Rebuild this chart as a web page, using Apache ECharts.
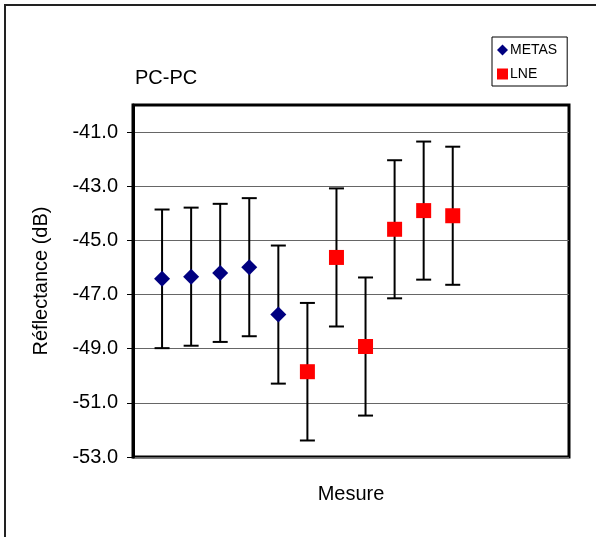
<!DOCTYPE html>
<html>
<head>
<meta charset="utf-8">
<script src="https://cdn.jsdelivr.net/npm/echarts@6/dist/echarts.min.js"></script>
<style>
  html, body { margin: 0; padding: 0; background: #fff; }
  #chart { width: 596px; height: 537px; }
</style>
</head>
<body>
<div id="chart"></div>
<script>
// measurement index on the x axis
const metasX = [1, 2, 3, 4, 5]
const lneX = [6, 7, 8, 9, 10, 11]
// reflectance values (dB)
const metasY = [-46.42, -46.34, -46.2, -45.99, -47.74]
const lneY = [-49.85, -45.63, -48.92, -44.59, -43.9, -44.09]
// uncertainty (half length of the error bars)
const metasU = [2.56, 2.55, 2.55, 2.55, 2.55]
const lneU = [2.54, 2.55, 2.55, 2.55, 2.55, 2.55]
// y ticks
const yTicks = [-53, -51, -49, -47, -45, -43, -41]

const FONT = 'Liberation Sans, Arial, sans-serif'

var chart = echarts.init(document.getElementById('chart'))

const pairs = (xs, ys) => xs.map((x, i) => [x, ys[i]])
const bars = (xs, ys, us) => xs.map((x, i) => [x, ys[i] - us[i], ys[i] + us[i]])

const errorSeries = (name, data) => ({
  type: 'custom',
  name: name + '-err',
  data: data,
  z: 2,
  silent: true,
  renderItem: function (params, api) {
    var lo = api.coord([api.value(0), api.value(1)])
    var hi = api.coord([api.value(0), api.value(2)])
    var half = 7.5
    var style = { stroke: '#000', lineWidth: 2 }
    return {
      type: 'group',
      children: [
        { type: 'line', shape: { x1: lo[0], y1: lo[1], x2: hi[0], y2: hi[1] }, style: style },
        { type: 'line', shape: { x1: lo[0] - half, y1: lo[1], x2: lo[0] + half, y2: lo[1] }, style: style },
        { type: 'line', shape: { x1: hi[0] - half, y1: hi[1], x2: hi[0] + half, y2: hi[1] }, style: style },
      ],
    }
  },
})

var option = {
  backgroundColor: '#fff',
  animation: false,
  textStyle: { fontFamily: FONT },
  title: {
    text: 'PC-PC',
    left: 135,
    top: 68,
    padding: 0,
    textStyle: { fontFamily: FONT, fontSize: 20, fontWeight: 'normal', color: '#000' },
  },
  legend: {
    orient: 'vertical',
    left: 492,
    top: 37,
    width: 75,
    padding: [6, 10, 5, 5],
    itemGap: 10,
    itemWidth: 11,
    itemHeight: 11,
    borderColor: '#000',
    borderWidth: 1,
    borderRadius: 0,
    data: ['METAS', 'LNE'],
    textStyle: { fontFamily: FONT, fontSize: 14, color: '#000', padding: [0, 0, 0, -3] },
  },
  graphic: [
    {
      type: 'rect',
      shape: { x: 5, y: 5, width: 800, height: 800 },
      style: { fill: 'none', stroke: '#222', lineWidth: 2 },
      silent: true,
    },
  ],
  grid: {
    left: 133,
    right: 27,
    top: 105,
    bottom: 80,
    show: true,
    borderColor: '#000',
    borderWidth: 3,
    backgroundColor: '#fff',
  },
  xAxis: {
    type: 'value',
    min: 0,
    max: 15,
    name: 'Mesure',
    nameLocation: 'middle',
    nameGap: 27,
    nameTextStyle: { fontFamily: FONT, fontSize: 20, color: '#000' },
    axisLine: { show: false },
    axisTick: { show: false },
    axisLabel: { show: false },
    splitLine: { show: false },
  },
  yAxis: {
    type: 'value',
    min: -53,
    max: -40,
    interval: 2,
    name: 'Réflectance (dB)',
    nameLocation: 'middle',
    nameGap: 82,
    nameTextStyle: { fontFamily: FONT, fontSize: 20, color: '#000' },
    axisLine: { show: true, lineStyle: { color: '#000', width: 3 } },
    axisTick: {
      show: true,
      length: 6,
      customValues: yTicks,
      lineStyle: { color: '#000', width: 1 },
    },
    axisLabel: {
      customValues: yTicks,
      margin: 15,
      fontFamily: FONT,
      fontSize: 20,
      color: '#000',
      formatter: (v) => v.toFixed(1),
    },
    splitLine: { show: true, lineStyle: { color: '#666', width: 1 } },
  },
  series: [
    errorSeries('METAS', bars(metasX, metasY, metasU)),
    errorSeries('LNE', bars(lneX, lneY, lneU)),
    {
      name: 'METAS',
      type: 'scatter',
      symbol: 'diamond',
      symbolSize: 16,
      z: 3,
      itemStyle: { color: '#000080', opacity: 1 },
      data: pairs(metasX, metasY),
    },
    {
      name: 'LNE',
      type: 'scatter',
      symbol: 'rect',
      symbolSize: 15,
      z: 3,
      itemStyle: { color: '#ff0000', opacity: 1 },
      data: pairs(lneX, lneY),
    },
  ],
}

option && chart.setOption(option)
</script>
</body>
</html>
